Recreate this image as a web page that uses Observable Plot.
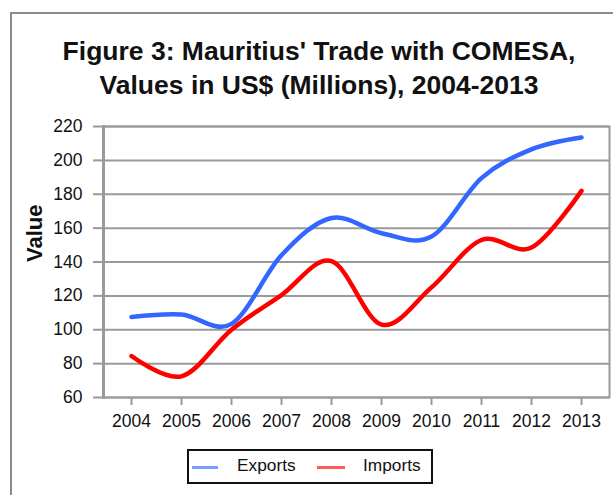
<!DOCTYPE html>
<html>
<head>
<meta charset="utf-8">
<script src="https://cdn.jsdelivr.net/npm/d3@7"></script>
<script src="https://cdn.jsdelivr.net/npm/@observablehq/plot@0.6"></script>
<style>
  html, body { margin: 0; padding: 0; background: #fff; }
  body { width: 613px; height: 495px; position: relative; overflow: hidden; font-family: "Liberation Sans", Arial, sans-serif; }
  #border { position: absolute; left: 10px; top: 12px; width: 700px; height: 600px; border: 2px solid #8c8c8c; box-sizing: border-box; }
  #title { position: absolute; left: 0; top: 34px; width: 638px; text-align: center; font-weight: bold; font-size: 26.5px; line-height: 34px; color: #111; }
  #chart { position: absolute; left: 0; top: 110px; }
  #legend { position: absolute; left: 187px; top: 449px; width: 246px; height: 35px; border: 2px solid #111; box-sizing: border-box; }
  .sw { position: absolute; height: 3px; top: 15px; }
  .lt { position: absolute; top: 4px; font-size: 17.3px; line-height: 20px; color: #111; white-space: nowrap; }
</style>
</head>
<body>
<div id="border"></div>
<div id="title">Figure 3: Mauritius' Trade with COMESA,<br>Values in US$ (Millions), 2004-2013</div>
<div id="chart"></div>
<div id="legend"></div>
<script>
const years = ["2004","2005","2006","2007","2008","2009","2010","2011","2012","2013"];
const exportsVals = [107.5, 109, 103.5, 144, 166, 157, 155, 189.5, 206.5, 213.5];
const importsVals = [84.5, 72.5, 100, 120.5, 140.5, 103, 125, 153, 148.5, 182];
const seriesNames = ["Exports", "Imports"];
const seriesColors = ["#3366ff", "#ff0000"];
const yTicks = [60, 80, 100, 120, 140, 160, 180, 200, 220];
const yLabel = "Value";

const data = [
  ...years.map((y, i) => ({year: y, value: exportsVals[i], series: seriesNames[0]})),
  ...years.map((y, i) => ({year: y, value: importsVals[i], series: seriesNames[1]}))
];

const gridColor = "#9a9a9a";

const chart = Plot.plot({
  width: 613,
  height: 330,
  marginTop: 16,
  marginBottom: 43,
  marginLeft: 103,
  marginRight: 4,
  style: {fontFamily: "'Liberation Sans', Arial, sans-serif", fontSize: "17.5px", color: "#111", background: "transparent", overflow: "visible"},
  x: {type: "point", domain: years, padding: 0.5},
  y: {domain: [60, 220]},
  color: {domain: seriesNames, range: seriesColors},
  marks: [
    Plot.gridY(yTicks, {stroke: gridColor, strokeOpacity: 1, strokeWidth: 2}),
    Plot.frame({stroke: gridColor, strokeWidth: 2}),
    Plot.frame({anchor: "left", stroke: gridColor, strokeWidth: 3}),
    Plot.axisY(yTicks, {tickSize: 10, tickPadding: 11, stroke: gridColor, strokeWidth: 2, label: null}),
    Plot.axisX({tickSize: 8, tickPadding: 9, stroke: gridColor, strokeWidth: 2, label: null}),
    Plot.line(data, {x: "year", y: "value", stroke: "series", strokeWidth: 4.5, curve: "cardinal"}),
    Plot.text([yLabel], {frameAnchor: "left", dx: -69, rotate: -90, fontWeight: "bold", fontSize: 22, fill: "#111"})
  ]
});
document.getElementById("chart").appendChild(chart);

// legend
const legend = document.getElementById("legend");
const swX = [3, 128];
const swW = [26, 28];
const txX = [48, 174];
seriesNames.forEach((name, i) => {
  const sw = document.createElement("div");
  sw.className = "sw";
  sw.style.left = swX[i] + "px";
  sw.style.width = swW[i] + "px";
  sw.style.background = seriesColors[i];
  sw.style.opacity = "0.65";
  legend.appendChild(sw);
  const t = document.createElement("span");
  t.className = "lt";
  t.style.left = txX[i] + "px";
  t.textContent = name;
  legend.appendChild(t);
});
</script>
</body>
</html>
